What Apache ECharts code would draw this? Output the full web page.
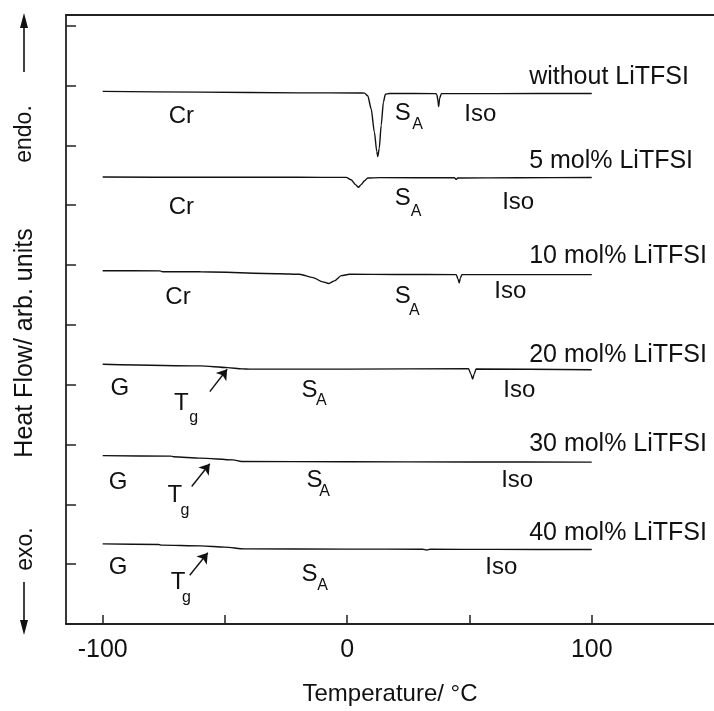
<!DOCTYPE html>
<html>
<head>
<meta charset="utf-8">
<script src="https://cdn.jsdelivr.net/npm/echarts@6/dist/echarts.min.js"></script>
<style>
  html, body { margin: 0; padding: 0; background: #fff; }
  #chart { width: 714px; height: 711px; }
</style>
</head>
<body>
<div id="chart"></div>
<script>
// DSC heating traces, temperature in °C, heat flow in arbitrary (offset) units
const temps0  = [-100, -60, -20, 5, 7.1, 8.4, 9.8, 11.1, 12.1, 12.5, 13.1, 13.9, 14.8, 15.6, 17.3, 36.3, 36.7, 37.1, 37.4, 37.8, 38.5, 60, 100];
const flow0   = [8.904, 8.890, 8.879, 8.876, 8.874, 8.831, 8.612, 8.226, 7.896, 7.813, 7.950, 8.336, 8.722, 8.855, 8.868, 8.866, 8.843, 8.749, 8.650, 8.788, 8.865, 8.866, 8.868];

const temps5  = [-100, -60, -20, -0.4, 1.6, 3.4, 4.6, 5.7, 7.1, 8.4, 13.2, 43.8, 44.5, 45.2, 70, 100];
const flow5   = [7.471, 7.468, 7.467, 7.466, 7.426, 7.344, 7.301, 7.344, 7.410, 7.455, 7.461, 7.460, 7.433, 7.455, 7.460, 7.463];

const temps10 = [-100, -76.5, -75.5, -60, -27.6, -19.5, -14, -10, -7.5, -5.2, -2.4, 0.9, 20, 44.6, 45.3, 45.8, 46.3, 46.9, 70, 100];
const flow10  = [5.906, 5.903, 5.889, 5.887, 5.856, 5.846, 5.790, 5.719, 5.691, 5.736, 5.823, 5.846, 5.843, 5.840, 5.769, 5.702, 5.785, 5.840, 5.840, 5.840];

const temps20 = [-100, -60, -49, -43, -40, 0, 49.6, 50.6, 51.3, 51.9, 52.7, 100];
const flow20  = [4.342, 4.314, 4.286, 4.264, 4.260, 4.260, 4.269, 4.177, 4.094, 4.177, 4.262, 4.250];

const temps30 = [-100, -72, -71, -60, -46.7, -43.3, 0, 50, 100];
const flow30  = [2.815, 2.806, 2.795, 2.772, 2.744, 2.716, 2.712, 2.708, 2.706];

const temps40 = [-100, -77, -76, -60, -50, -42, 0, 31, 32.5, 34, 60, 100];
const flow40  = [1.339, 1.330, 1.318, 1.306, 1.285, 1.256, 1.252, 1.250, 1.238, 1.249, 1.247, 1.245];

// sample names and the height of each name
const sampleNames  = ['without LiTFSI', '5 mol% LiTFSI', '10 mol% LiTFSI', '20 mol% LiTFSI', '30 mol% LiTFSI', '40 mol% LiTFSI'];
const sampleNameT  = 74.4;
const sampleNameY  = [9.19, 7.785, 6.198, 4.534, 3.046, 1.559];

// phase labels: [text, temperature, heat flow]
const phaseLabels = [
  ['Cr', -67.8, 8.529], ['S', 22.7, 8.583], ['Iso', 54.4, 8.557],
  ['Cr', -67.8, 7.013], ['S', 22.7, 7.152], ['Iso', 69.9, 7.096],
  ['Cr', -69.2, 5.499], ['S', 22.7, 5.526], ['Iso', 66.7, 5.608],
  ['G', -93.0, 3.983], ['T', -67.8, 3.736], ['S', -15.4, 3.955], ['Iso', 70.4, 3.955],
  ['G', -93.7, 2.413], ['T', -70.5, 2.193], ['S', -13.4, 2.441], ['Iso', 69.5, 2.441],
  ['G', -93.7, 0.980], ['T', -69.2, 0.732], ['S', -15.4, 0.876], ['Iso', 63.0, 0.980]
];
// subscripts of S_A and T_g
const subLabels = [
  ['A', 28.8, 8.392], ['A', 28.2, 6.931], ['A', 27.5, 5.278],
  ['g', -62.8, 3.488], ['A', -10.6, 3.769],
  ['g', -66.4, 1.945], ['A', -9.3, 2.248],
  ['g', -65.7, 0.484], ['A', -10.1, 0.678]
];
// glass transition arrows: [T start, flow start, T end, flow end]
const tgArrows = [
  [-56.2, 3.884, -49.1, 4.259],
  [-63.6, 2.298, -56.2, 2.678],
  [-64.4, 0.815, -57.0, 1.190]
];

const xTicks  = [-100, -50, 0, 50, 100];
const xLabels = [-100, 0, 100];

const FONT = '"Liberation Sans", Arial, sans-serif';
const INK = '#111';

const traces = [
  [temps0, flow0], [temps5, flow5], [temps10, flow10],
  [temps20, flow20], [temps30, flow30], [temps40, flow40]
];

const chart = echarts.init(document.getElementById('chart'), null, { renderer: 'canvas' });

const series = traces.map(([t, f], k) => ({
  type: 'line',
  name: sampleNames[k],
  data: t.map((v, i) => [v, f[i]]),
  showSymbol: false,
  smooth: 0.25,
  smoothMonotone: 'x',
  silent: true,
  lineStyle: { color: INK, width: 1.4 },
  z: 3
}));

// text drawn at data positions
function textSeries(items, size, position) {
  return {
    type: 'scatter',
    silent: true,
    symbolSize: 0,
    itemStyle: { opacity: 1 },
    data: items,
    label: {
      show: true, position: position, distance: 0, offset: [0, 2.5],
      formatter: p => p.name,
      fontFamily: FONT, fontSize: size, color: INK, opacity: 1
    },
    z: 5
  };
}

series.push(textSeries(sampleNames.map((n, i) => ({ name: n, value: [sampleNameT, sampleNameY[i]] })), 25, 'right'));
series.push(textSeries(phaseLabels.map(d => ({ name: d[0], value: [d[1], d[2]] })), 24, 'inside'));
series.push(textSeries(subLabels.map(d => ({ name: d[0], value: [d[1], d[2]] })), 16, 'inside'));

series.push({
  type: 'lines',
  coordinateSystem: 'cartesian2d',
  silent: true,
  symbol: ['none', 'arrow'],
  symbolSize: 10,
  lineStyle: { color: INK, width: 1.4, opacity: 1 },
  data: tgArrows.map(a => ({ coords: [[a[0], a[1]], [a[2], a[3]]] }))
});

const axisLineStyle = { color: '#222', width: 1.8 };

chart.setOption({
  animation: false,
  backgroundColor: '#fff',
  grid: { left: 66, top: 15, width: 649, height: 616, containLabel: false },
  xAxis: [{
    type: 'value',
    min: -115, max: 150,
    position: 'bottom',
    name: 'Temperature/ °C',
    nameLocation: 'middle',
    nameGap: 58,
    nameTextStyle: { fontFamily: FONT, fontSize: 24, color: INK },
    axisLine: { show: true, onZero: false, lineStyle: axisLineStyle },
    axisTick: { show: true, inside: true, length: 9, customValues: xTicks, lineStyle: { color: '#222', width: 1.5 } },
    axisLabel: { show: true, customValues: xLabels, margin: 14, fontFamily: FONT, fontSize: 25, color: INK },
    splitLine: { show: false }
  }, {
    type: 'value',
    min: -115, max: 150,
    position: 'top',
    axisLine: { show: true, onZero: false, lineStyle: axisLineStyle },
    axisTick: { show: false },
    axisLabel: { show: false },
    splitLine: { show: false }
  }],
  yAxis: [{
    type: 'value',
    min: 0, max: 10.18, interval: 1,
    axisLine: { show: true, onZero: false, lineStyle: axisLineStyle },
    axisTick: { show: true, inside: true, length: 10, lineStyle: { color: '#222', width: 1.5 } },
    axisLabel: { show: false },
    splitLine: { show: false }
  }],
  series: series,
  graphic: [
    {
      type: 'text', x: 25, y: 343, rotation: Math.PI / 2,
      style: { text: 'Heat Flow/ arb. units', font: '25px ' + FONT, fill: INK, align: 'center', verticalAlign: 'middle' }
    },
    {
      type: 'text', x: 25, y: 134, rotation: Math.PI / 2,
      style: { text: 'endo.', font: '23px ' + FONT, fill: INK, align: 'center', verticalAlign: 'middle' }
    },
    {
      type: 'text', x: 26, y: 549, rotation: Math.PI / 2,
      style: { text: 'exo.', font: '23px ' + FONT, fill: INK, align: 'center', verticalAlign: 'middle' }
    },
    { type: 'line', shape: { x1: 24, y1: 72, x2: 24, y2: 26 }, style: { stroke: INK, lineWidth: 1.6 } },
    { type: 'polygon', shape: { points: [[24, 13], [20, 28], [28, 28]] }, style: { fill: INK } },
    { type: 'line', shape: { x1: 24, y1: 582, x2: 24, y2: 622 }, style: { stroke: INK, lineWidth: 1.6 } },
    { type: 'polygon', shape: { points: [[24, 635], [20, 620], [28, 620]] }, style: { fill: INK } }
  ]
});
</script>
</body>
</html>
